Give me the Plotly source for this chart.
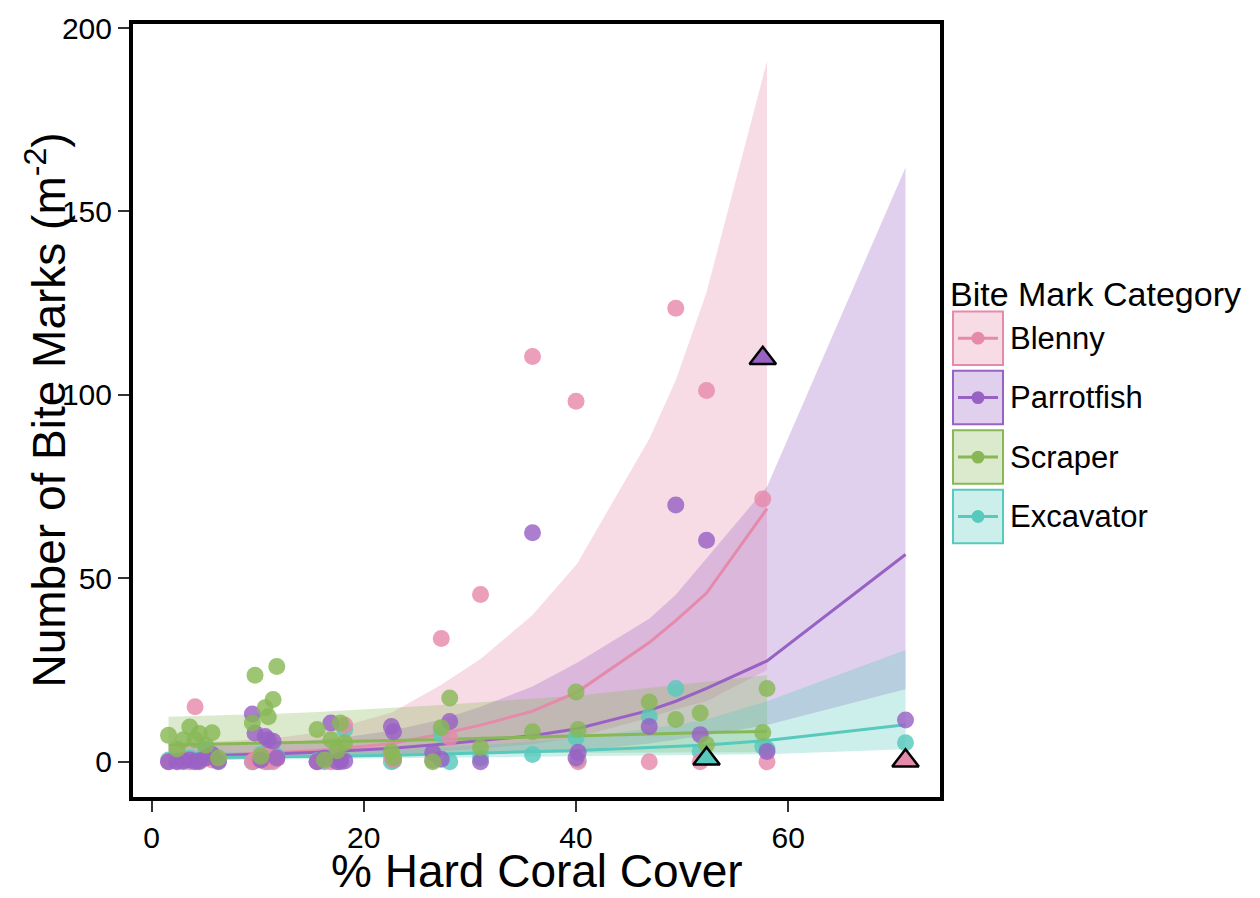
import plotly.graph_objects as go

# ---------------- data ----------------
categories = ["Blenny", "Parrotfish", "Scraper", "Excavator"]

site_x = [1.6, 2.4, 3.0, 3.6, 4.1, 4.5, 5.1, 5.7, 6.3,
          9.5, 9.75, 10.3, 10.7, 11.0, 11.45, 11.8,
          15.6, 16.3, 16.9, 17.5, 17.8, 18.2,
          22.6, 22.8,
          26.5, 27.3, 28.1,
          31.0, 35.9, 40.0, 40.2, 46.9, 49.4, 51.7, 52.3, 57.6, 58.0, 71.05]

blenny = [0, 0.3, 0.5, 0, 15.0, 0, 1.0, 0.5, 0.7,
          0, 0.5, 1.5, 0, 2.0, 0, 0.8,
          0, 0.5, 0, 1.0, 0, 10.0,
          1.5, 0.5,
          0.5, 33.6, 6.6,
          45.6, 110.5, 98.3, 0, 0, 123.6, 0, 101.2, 71.6, 0, None]
parrotfish = [0, 0, 0.2, 0.5, 0, 0.3, 1.0, 2.0, 0,
              13.0, 7.8, 0.5, 6.9, 6.0, 5.6, 1.0,
              0, 1.0, 10.6, 0, 0.5, 0.2,
              9.6, 8.2,
              2.5, 0.7, 11.0,
              0, 62.4, 1.0, 2.6, 9.6, 70.0, 7.4, 60.4, None, 2.8, 11.4]
scraper = [7.2, 3.5, 6.0, 9.5, 6.0, 7.7, 4.5, 7.9, 1.0,
           10.6, 23.6, 1.5, 14.7, 12.3, 17.0, 26.0,
           8.8, 0.5, 6.0, 3.0, 10.6, 5.2,
           2.8, 1.0,
           0, 9.3, 17.4,
           3.9, 8.2, 19.0, 8.8, 16.3, 11.5, 13.3, 4.7, 8.0, 20.0, None]
excavator = [0.5, 0.2, 0, 1.0, 0.5, 0, 3.5, 1.5, 0.3,
             0, 0.3, 2.0, 1.0, 0, 0.5, 1.5,
             0.3, 0, 1.0, 0.5, 0, 8.8,
             0, 0.3,
             0.5, 7.4, 0,
             1.0, 2.0, 6.6, 0.5, 12.3, 20.0, 2.8, None, 4.2, 3.5, 5.2]

outlier_x = [57.6, 52.3, 71.05]
outlier_y = [110.0, 0.8, 0.3]
outlier_cat = ["Parrotfish", "Excavator", "Blenny"]

fit_x = [1.6, 5.7, 9.75, 11.8, 15.6, 17.8, 22.7, 27.3, 31.0, 35.9, 40.1, 46.9, 49.4, 52.3, 58.0]
fit_x_ext = fit_x + [71.05]

blenny_fit = [1.3, 1.7, 2.2, 2.5, 3.1, 3.6, 5.0, 7.6, 10.0, 13.8, 19.0, 32.5, 38.5, 46.0, 69.0]
blenny_hi = [5.0, 5.5, 6.0, 6.5, 8.0, 9.5, 13.5, 21.0, 28.0, 40.0, 54.0, 88.0, 104.0, 128.0, 191.0]
blenny_lo = [0.35, 0.55, 0.8, 0.95, 1.2, 1.4, 1.85, 2.75, 3.6, 4.8, 6.7, 12.0, 14.3, 16.5, 25.0]

parrot_fit = [1.3, 1.6, 2.0, 2.2, 2.6, 2.9, 3.7, 4.8, 5.8, 7.1, 9.0, 14.0, 16.5, 20.0, 27.5, 56.5]
parrot_hi = [4.0, 4.3, 4.8, 5.1, 5.9, 6.5, 8.5, 11.5, 15.0, 20.5, 27.0, 39.0, 45.5, 55.5, 75.0, 162.0]
parrot_lo = [0.4, 0.6, 0.85, 0.95, 1.15, 1.3, 1.6, 2.0, 2.3, 2.5, 3.0, 5.0, 6.0, 7.2, 10.0, 19.8]

scraper_fit = [4.6, 4.8, 5.0, 5.1, 5.4, 5.5, 5.8, 6.1, 6.4, 6.7, 7.0, 7.6, 7.8, 8.0, 8.3]
scraper_hi = [12.3, 12.6, 12.9, 13.1, 13.6, 14.0, 14.7, 15.5, 16.3, 17.2, 18.0, 20.0, 20.9, 21.8, 23.6]
scraper_lo = [1.7, 1.85, 1.95, 2.0, 2.1, 2.15, 2.25, 2.3, 2.35, 2.4, 2.45, 2.5, 2.5, 2.5, 2.6]

excav_fit = [1.0, 1.1, 1.25, 1.3, 1.45, 1.55, 1.8, 2.1, 2.35, 2.75, 3.1, 3.9, 4.2, 4.6, 5.8, 10.1]
excav_hi = [2.6, 2.6, 2.6, 2.65, 2.75, 2.9, 3.3, 3.9, 4.5, 5.5, 6.5, 9.0, 10.0, 11.5, 16.5, 30.5]
excav_lo = [0.35, 0.45, 0.6, 0.65, 0.75, 0.85, 1.0, 1.15, 1.25, 1.4, 1.5, 1.7, 1.75, 1.85, 2.05, 3.4]

x_ticks = [0, 20, 40, 60]
y_ticks = [0, 50, 100, 150, 200]

# ---------------- styling ----------------
base = {"Blenny": (230, 138, 171), "Parrotfish": (152, 98, 196),
        "Scraper": (136, 184, 85), "Excavator": (88, 201, 189)}


def rgba(c, a):
    return "rgba(%d,%d,%d,%.2f)" % (c[0], c[1], c[2], a)


FONT = "Liberation Sans, Arial, Helvetica, sans-serif"

series = {
    "Blenny": (blenny, fit_x, blenny_fit, blenny_hi, blenny_lo),
    "Parrotfish": (parrotfish, fit_x_ext, parrot_fit, parrot_hi, parrot_lo),
    "Scraper": (scraper, fit_x, scraper_fit, scraper_hi, scraper_lo),
    "Excavator": (excavator, fit_x_ext, excav_fit, excav_hi, excav_lo),
}

fig = go.Figure()

# ribbons
for cat in categories:
    _, fx, ff, fh, fl = series[cat]
    fig.add_trace(go.Scatter(
        x=fx + fx[::-1], y=fh + fl[::-1], fill="toself",
        fillcolor=rgba(base[cat], 0.3), line=dict(width=0),
        mode="lines", hoverinfo="skip", showlegend=False))

# fitted lines
for cat in categories:
    _, fx, ff, fh, fl = series[cat]
    fig.add_trace(go.Scatter(
        x=fx, y=ff, mode="lines", line=dict(color=rgba(base[cat], 1), width=3),
        showlegend=False))

# points (drawing order chosen to match overlaps in the original)
for cat in ["Excavator", "Blenny", "Parrotfish", "Scraper"]:
    vals = series[cat][0]
    fig.add_trace(go.Scatter(
        x=site_x, y=vals, mode="markers", name=cat,
        marker=dict(size=17, color=rgba(base[cat], 0.82), line=dict(width=0)),
        showlegend=False))

# outlier triangles
fig.add_trace(go.Scatter(
    x=outlier_x, y=outlier_y, mode="markers",
    marker=dict(symbol="triangle-up", size=23,
                color=[rgba(base[c], 1) for c in outlier_cat],
                line=dict(color="black", width=2.5)),
    showlegend=False))

# ---------------- layout ----------------
L, R, T, B = 133, 940, 17, 797
W, H = R - L, B - T


def pxx(v):
    return (v - L) / W


def pyy(v):
    return (B - v) / H


shapes = []
annotations = []

# custom legend
box_tops = [307, 367, 427, 487]
for cat, top in zip(categories, box_tops):
    c = base[cat]
    cy = top + 27
    shapes.append(dict(type="rect", xref="paper", yref="paper",
                       x0=pxx(953), x1=pxx(1003), y0=pyy(top + 54), y1=pyy(top),
                       fillcolor=rgba(c, 0.3), line=dict(color=rgba(c, 1), width=2)))
    shapes.append(dict(type="line", xref="paper", yref="paper",
                       x0=pxx(958), x1=pxx(998), y0=pyy(cy), y1=pyy(cy),
                       line=dict(color=rgba(c, 1), width=3)))
    shapes.append(dict(type="circle", xref="paper", yref="paper",
                       x0=pxx(971.5), x1=pxx(984.5), y0=pyy(cy + 6.5), y1=pyy(cy - 6.5),
                       fillcolor=rgba(c, 1), line=dict(width=0)))
    annotations.append(dict(text=cat, xref="paper", yref="paper",
                            x=pxx(1008), y=pyy(cy), xanchor="left", yanchor="middle",
                            showarrow=False, font=dict(size=31, color="black", family=FONT)))

annotations.append(dict(text="Bite Mark Category", xref="paper", yref="paper",
                        x=pxx(948), y=pyy(289), xanchor="left", yanchor="middle",
                        showarrow=False, font=dict(size=34, color="black", family=FONT)))

# axis titles
annotations.append(dict(text="% Hard Coral Cover", xref="paper", yref="paper",
                        x=0.5, y=pyy(872), xanchor="center", yanchor="middle",
                        showarrow=False, font=dict(size=46, color="black", family=FONT)))
annotations.append(dict(text="Number of Bite Marks (m<sup>-2</sup>)", xref="paper", yref="paper",
                        x=pxx(45), y=0.5, xanchor="center", yanchor="middle", textangle=-90,
                        showarrow=False, font=dict(size=46, color="black", family=FONT)))

axis_common = dict(showgrid=False, zeroline=False, showline=True, mirror=True,
                   linecolor="black", linewidth=4, ticks="outside", ticklen=11,
                   tickwidth=2, tickcolor="#333333",
                   tickfont=dict(size=30, color="black", family=FONT))

fig.update_layout(
    width=1260, height=898,
    margin=dict(l=L, r=1260 - R, t=T, b=898 - B),
    paper_bgcolor="white", plot_bgcolor="white",
    xaxis=dict(range=[-1.75, 74.3], tickvals=x_ticks, **axis_common),
    yaxis=dict(range=[-9.6, 201.1], tickvals=y_ticks, **axis_common),
    shapes=shapes, annotations=annotations,
    font=dict(family=FONT),
)

fig.write_html("out.html")
